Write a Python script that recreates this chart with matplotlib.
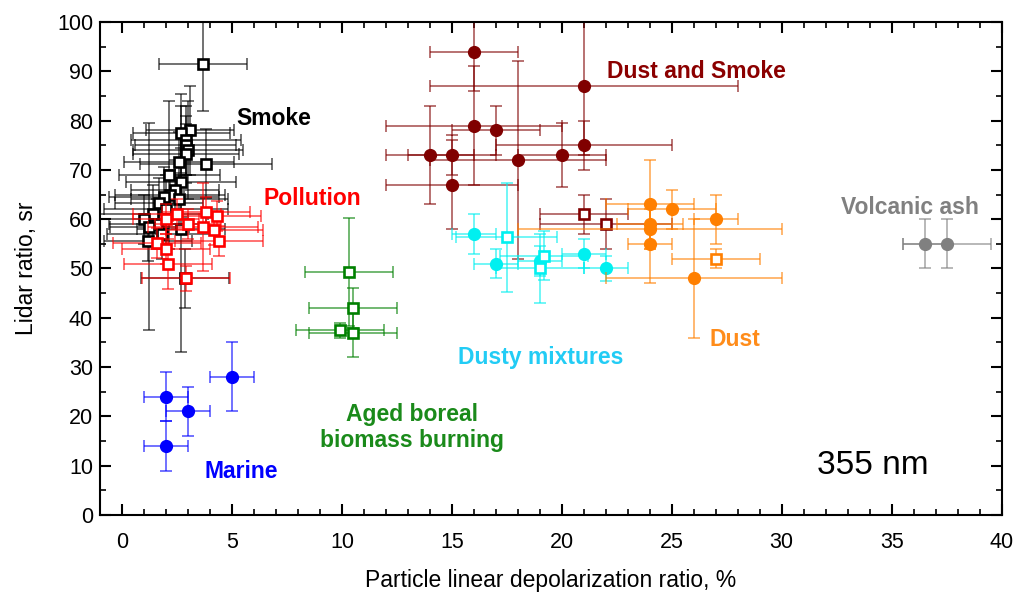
import matplotlib
matplotlib.use("Agg")
import matplotlib.pyplot as plt
from matplotlib.ticker import MultipleLocator

plt.rcParams["font.family"] = ["Liberation Sans", "DejaVu Sans"]

# each group: x, y, xerr, yerr
smoke_x = [3.7, 3.1, 2.7, 2.9, 2.9, 3.0, 2.9, 3.8, 2.6, 2.15, 2.7, 2.4, 2.2, 1.9, 2.6,
           1.7, 2.0, 1.4, 1.0, 1.6, 1.24, 2.7, 1.8, 1.2, 2.86]
smoke_y = [91.5, 78, 77.4, 76, 75, 74, 73.3, 71.2, 71.6, 69, 67.5, 66, 65, 64.5, 64,
           63.3, 62, 61, 60, 59, 58.5, 58, 57, 55.5, 48]
smoke_xerr = [2.0, 2.0, 2.2, 2.5, 2.3, 2.5, 2.4, 3.0, 2.5, 2.3, 2.5, 2.0, 2.5, 2.5, 2.2,
              2.0, 2.8, 2.5, 2.0, 2.2, 1.8, 2.0, 2.5, 2.0, 2.0]
smoke_yerr = [9.5, 9, 8, 7, 6, 10, 6, 7, 6, 15, 7, 6, 5, 6, 5,
              5, 7, 6, 5, 5, 21, 25, 5, 4, 6]

poll_x = [3.8, 4.3, 3.7, 4.2, 4.4, 1.6, 2.0, 2.1, 2.9, 2.5, 2.0, 3.0]
poll_y = [61.5, 60.6, 58.4, 57.8, 55.6, 55.2, 53.9, 50.9, 48, 61, 60, 59]
poll_xerr = [2.0, 2.0, 2.5, 2.2, 2.0, 2.0, 2.0, 2.0, 2.0, 2.0, 1.5, 1.5]
poll_yerr = [3, 3, 9, 3, 3, 3, 3, 5, 2.5, 3, 3, 3]

ds_x = [16, 21, 14, 15, 15, 16, 17, 18, 20, 21]
ds_y = [94, 87, 73, 73, 67, 79, 78, 72, 73, 75]
ds_xerr = [2, 7, 2, 2, 3, 4, 2, 4, 2, 4]
ds_yerr = [8, 14, 10, 4, 9, 12, 5, 20, 6.5, 5]
ds_sq_x = [21, 22]
ds_sq_y = [61, 59]
ds_sq_xerr = [2, 3]
ds_sq_yerr = [4, 5]

dm_x = [16, 17, 19, 21, 22]
dm_y = [57, 51, 51.5, 53, 50]
dm_xerr = [1, 1, 1, 1, 1]
dm_yerr = [4, 3, 3, 3, 2.5]
dm_sq_x = [17.5, 19.2, 19]
dm_sq_y = [56.3, 52.6, 50]
dm_sq_xerr = [2.3, 2, 2]
dm_sq_yerr = [11, 5, 7]

dust_x = [24, 25, 24, 24, 24, 27, 26]
dust_y = [63, 62, 59, 58, 55, 60, 48]
dust_xerr = [2, 2, 1.5, 6, 1, 1, 4]
dust_yerr = [9, 4, 4, 4, 8, 5, 12]
dust_sq_x = [27]
dust_sq_y = [52]
dust_sq_xerr = [2]
dust_sq_yerr = [2]

ab_x = [10.3, 10.5, 9.9, 10.5]
ab_y = [49.3, 42, 37.5, 37]
ab_xerr = [2, 2, 2, 2]
ab_yerr = [11, 4, 1.5, 5]

mar_x = [2, 2, 3, 5]
mar_y = [24, 14, 21, 28]
mar_xerr = [1, 1, 1, 1]
mar_yerr = [5, 5, 5, 7]

va_x = [36.5, 37.5]
va_y = [55, 55]
va_xerr = [1, 2]
va_yerr = [5, 5]


def group(ax, x, y, xe, ye, color, marker):
    ax.errorbar(x, y, xerr=xe, yerr=ye, fmt="none", ecolor=color, alpha=0.6,
                elinewidth=1.3, capsize=4, capthick=1.3)
    if marker == "s":
        ax.plot(x, y, "s", ms=6.5, mfc="white", mec=color, mew=1.9, ls="none")
    else:
        ax.plot(x, y, "o", ms=8.5, color=color, ls="none")


fig = plt.figure(figsize=(10.21, 5.94), dpi=100)
ax = fig.add_axes([0.098, 0.133, 0.883, 0.830])

group(ax, smoke_x, smoke_y, smoke_xerr, smoke_yerr, "black", "s")
group(ax, poll_x, poll_y, poll_xerr, poll_yerr, "red", "s")
group(ax, ds_x, ds_y, ds_xerr, ds_yerr, "#800000", "o")
group(ax, ds_sq_x, ds_sq_y, ds_sq_xerr, ds_sq_yerr, "#800000", "s")
group(ax, dm_x, dm_y, dm_xerr, dm_yerr, "#00f0f0", "o")
group(ax, dm_sq_x, dm_sq_y, dm_sq_xerr, dm_sq_yerr, "#00f0f0", "s")
group(ax, dust_x, dust_y, dust_xerr, dust_yerr, "#ff7f00", "o")
group(ax, dust_sq_x, dust_sq_y, dust_sq_xerr, dust_sq_yerr, "#ff7f00", "s")
group(ax, ab_x, ab_y, ab_xerr, ab_yerr, "#008000", "s")
group(ax, mar_x, mar_y, mar_xerr, mar_yerr, "#0000ff", "o")
group(ax, va_x, va_y, va_xerr, va_yerr, "#808080", "o")

kw = dict(fontsize=16.5, fontweight="bold", va="center")
ax.text(5.2, 80.5, "Smoke", color="black", **kw)
ax.text(6.45, 64.1, "Pollution", color="red", **kw)
ax.text(22.05, 89.9, "Dust and Smoke", color="#8b0000", **kw)
ax.text(32.7, 62.3, "Volcanic ash", color="#808080", **kw)
ax.text(15.3, 32, "Dusty mixtures", color="#22ccf5", **kw)
ax.text(26.7, 35.5, "Dust", color="#ff8c1a", **kw)
ax.text(13.2, 17.7, "Aged boreal\nbiomass burning", color="#1a8a1a", ha="center",
        linespacing=1.15, **kw)
ax.text(3.73, 8.9, "Marine", color="#0000ff", **kw)
ax.text(31.6, 10.1, "355 nm", color="black", fontsize=24, va="center")

ax.set_xlim(-1, 40)
ax.set_ylim(0, 100)
ax.xaxis.set_major_locator(MultipleLocator(5))
ax.xaxis.set_minor_locator(MultipleLocator(1))
ax.yaxis.set_major_locator(MultipleLocator(10))
ax.yaxis.set_minor_locator(MultipleLocator(5))
ax.tick_params(which="both", direction="in", top=True, right=True, labelsize=15.5)
ax.tick_params(which="major", length=8, width=1.5)
ax.tick_params(which="minor", length=4, width=1.2)
ax.tick_params(axis="x", which="major", pad=12)
ax.tick_params(axis="y", which="major", pad=5)
for s in ax.spines.values():
    s.set_linewidth(1.5)
ax.set_xlabel("Particle linear depolarization ratio, %", fontsize=16.5, labelpad=12)
ax.set_ylabel("Lidar ratio, sr", fontsize=16.5, labelpad=14)

fig.savefig("out.png", dpi=100)
